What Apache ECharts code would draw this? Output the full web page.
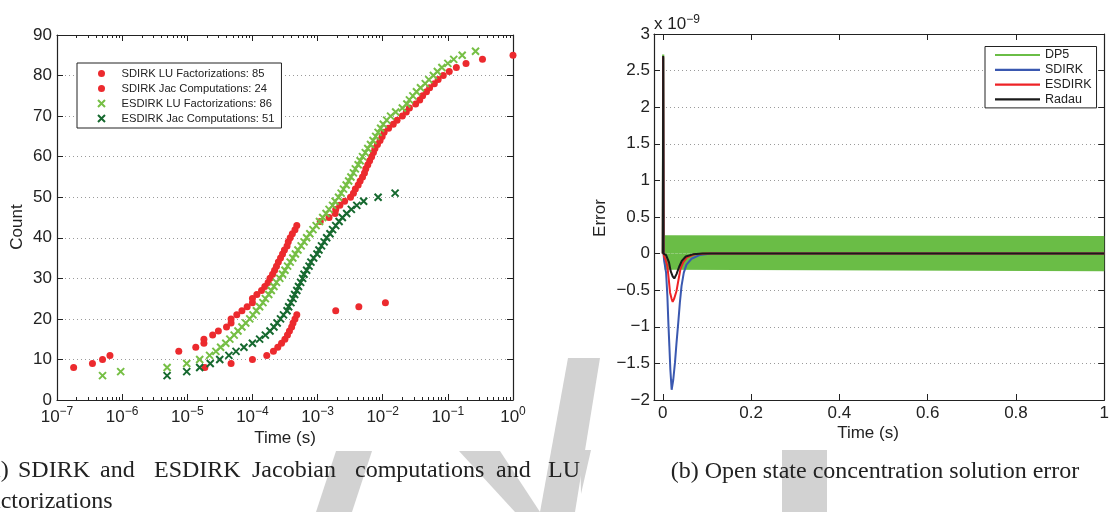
<!DOCTYPE html>
<html><head><meta charset="utf-8">
<script src="https://cdn.jsdelivr.net/npm/echarts@6/dist/echarts.min.js"></script>
<style>html,body{margin:0;padding:0;background:#fff}#c{width:1112px;height:512px}</style>
</head><body><div id="c"></div>
<script>
// ---------- Left panel: cumulative counts vs time ----------
const sdirkLuTime = [1.8e-7,3.5e-7,5.0e-7,6.5e-7,7.4e-6,1.35e-5,1.8e-5,1.8e-5,2.45e-5,3.0e-5,4.0e-5,4.7e-5,4.7e-5,5.75e-5,6.9e-5,8.3e-5,1.0e-4,1.0e-4,1.17e-4,1.38e-4,1.55e-4,1.74e-4,1.86e-4,2.04e-4,2.19e-4,2.34e-4,2.5e-4,2.7e-4,2.9e-4,3.1e-4,3.4e-4,3.55e-4,3.8e-4,4.1e-4,4.5e-4,4.8e-4,1.1e-3,1.5e-3,1.86e-3,1.9e-3,2.2e-3,2.6e-3,3.2e-3,3.55e-3,3.8e-3,4.2e-3,4.5e-3,4.9e-3,5.25e-3,5.5e-3,5.9e-3,6.3e-3,6.75e-3,7.2e-3,7.6e-3,8.3e-3,9.1e-3,9.8e-3,1.05e-2,1.23e-2,1.45e-2,1.66e-2,2.0e-2,2.3e-2,2.57e-2,3.2e-2,3.7e-2,4.1e-2,4.7e-2,5.25e-2,6.2e-2,7.1e-2,8.5e-2,1.05e-1,1.35e-1,1.9e-1,3.4e-1,1.0];
const sdirkLuCount = [8,9,10,11,12,13,14,15,16,17,18,19,20,21,22,23,24,25,26,27,28,29,30,31,32,33,34,35,36,37,38,39,40,41,42,43,44,45,46,47,48,49,50,51,52,53,54,55,56,57,58,59,60,61,62,63,64,65,66,67,68,69,70,71,72,73,74,75,76,77,78,79,80,81,82,83,84,85];
const sdirkJacTime = [1.86e-5,4.7e-5,1.0e-4,1.66e-4,2.1e-4,2.45e-4,2.8e-4,3.15e-4,3.45e-4,3.7e-4,4.0e-4,4.2e-4,4.5e-4,4.8e-4,1.9e-3,4.3e-3,1.1e-2];
const sdirkJacCount = [8,9,10,11,12,13,14,15,16,17,18,19,20,21,22,23,24];
const esdirkLuTime = [5.0e-7,9.5e-7,4.9e-6,9.8e-6,1.55e-5,2.2e-5,2.75e-5,3.25e-5,3.9e-5,4.5e-5,5.25e-5,6.0e-5,6.9e-5,7.9e-5,9.1e-5,1.02e-4,1.15e-4,1.29e-4,1.45e-4,1.58e-4,1.78e-4,1.95e-4,2.14e-4,2.34e-4,2.63e-4,2.9e-4,3.16e-4,3.47e-4,3.8e-4,4.17e-4,4.57e-4,5.0e-4,5.6e-4,6.2e-4,6.8e-4,7.6e-4,8.5e-4,9.5e-4,1.07e-3,1.2e-3,1.35e-3,1.5e-3,1.7e-3,1.86e-3,2.1e-3,2.3e-3,2.5e-3,2.75e-3,3.0e-3,3.25e-3,3.55e-3,3.8e-3,4.2e-3,4.5e-3,4.9e-3,5.4e-3,5.9e-3,6.5e-3,7.1e-3,7.8e-3,8.5e-3,9.3e-3,1.02e-2,1.15e-2,1.32e-2,1.58e-2,2.0e-2,2.35e-2,2.57e-2,2.9e-2,3.3e-2,3.8e-2,4.5e-2,5.1e-2,6.0e-2,6.9e-2,8.1e-2,1.0e-1,1.23e-1,1.66e-1,2.66e-1];
const esdirkLuCount = [6,7,8,9,10,11,12,13,14,15,16,17,18,19,20,21,22,23,24,25,26,27,28,29,30,31,32,33,34,35,36,37,38,39,40,41,42,43,44,45,46,47,48,49,50,51,52,53,54,55,56,57,58,59,60,61,62,63,64,65,66,67,68,69,70,71,72,73,74,75,76,77,78,79,80,81,82,83,84,85,86];
const esdirkJacTime = [4.9e-6,9.8e-6,1.55e-5,2.25e-5,3.15e-5,4.35e-5,5.6e-5,7.4e-5,1.0e-4,1.29e-4,1.58e-4,1.86e-4,2.14e-4,2.4e-4,2.7e-4,3.0e-4,3.4e-4,3.6e-4,3.9e-4,4.2e-4,4.45e-4,4.8e-4,5.1e-4,5.5e-4,5.9e-4,6.2e-4,6.8e-4,7.4e-4,7.9e-4,8.7e-4,9.8e-4,1.05e-3,1.15e-3,1.26e-3,1.38e-3,1.55e-3,1.7e-3,1.9e-3,2.14e-3,2.4e-3,2.8e-3,3.3e-3,4.0e-3,5.1e-3,8.5e-3,1.55e-2];
const esdirkJacCount = [6,7,8,9,10,11,12,13,14,15,16,17,18,19,20,21,22,23,24,25,26,27,28,29,30,31,32,33,34,35,36,37,38,39,40,41,42,43,44,45,46,47,48,49,50,51];
const leftLegend = ['SDIRK LU Factorizations: 85','SDIRK Jac Computations: 24','ESDIRK LU Factorizations: 86','ESDIRK Jac Computations: 51'];
const logMajorTicks = [1e-7,1e-6,1e-5,1e-4,1e-3,1e-2,1e-1,1];

// ---------- Right panel: error (x 1e-9) vs time ----------
const dp5SpikeTime = [0,0.0008,0.0016];
const dp5SpikeVal  = [0,2.72,0];
const dp5BandTime  = [0.004,0.006,1.0];
const dp5BandUpper = [0.25,0.24,0.24];
const dp5BandLower = [-0.22,-0.24,-0.24];
const sdirkTime = [0,0.0008,0.0016,0.003,0.005,0.0074,0.0103,0.0125,0.0148,0.017,0.020,0.0237,0.0275,0.031,0.035,0.0386,0.0424,0.0475,0.0536,0.065,0.083,0.11,1.0];
const sdirkVal  = [0,2.68,0,-0.1,-0.12,-0.26,-0.58,-0.94,-1.26,-1.58,-1.86,-1.72,-1.49,-1.22,-0.94,-0.67,-0.44,-0.26,-0.15,-0.07,-0.02,0,0];
const esdirkTime = [0,0.0008,0.0016,0.003,0.006,0.0103,0.0134,0.0163,0.020,0.0223,0.026,0.031,0.0357,0.040,0.046,0.055,0.072,0.1,1.0];
const esdirkVal  = [0,2.69,0,-0.04,-0.08,-0.17,-0.35,-0.53,-0.62,-0.66,-0.61,-0.51,-0.35,-0.21,-0.12,-0.05,-0.01,0,0];
const radauTime = [0,0.0008,0.0016,0.004,0.0074,0.0103,0.014,0.0178,0.0223,0.026,0.031,0.037,0.043,0.052,0.068,0.09,1.0];
const radauVal  = [0,2.7,0,-0.01,-0.02,-0.04,-0.12,-0.24,-0.31,-0.34,-0.28,-0.18,-0.10,-0.04,-0.01,0,0];
const rightXTicks = [0,0.2,0.4,0.6,0.8,1];
const rightLegend = ['DP5','SDIRK','ESDIRK','Radau'];

const FONT = 'Liberation Sans';
const TXT = '#222';
const minorTicks = [];
for (let k = -7; k < 0; k++) for (let m = 2; m <= 9; m++) minorTicks.push(m * Math.pow(10, k));

const pairs = (xs, ys) => xs.map((x, i) => [x, ys[i]]);
const X_PATH = 'path://M0 0L10 10M10 0L0 10';
const RED = '#ec2a2e', LG = '#76bf45', DG = '#16692f', DP5C = '#6abd46';
const GRIDLINE = { show: true, lineStyle: { color: '#9a9a9a', type: [1, 3], width: 1 } };
const axLine = { show: true, onZero: false, lineStyle: { color: '#222', width: 1.2 } };
const noLine = { show: false, onZero: false };
const tick = (len, custom) => Object.assign({ inside: true, length: len, lineStyle: { color: '#222' } }, custom ? { customValues: custom } : {});
const WM = '#d2d2d2';

const option = {
  animation: false,
  backgroundColor: '#fff',
  grid: [
    { left: 57, top: 35, width: 456, height: 365 },
    { left: 654, top: 34, width: 457, height: 366 }
  ],
  xAxis: [
    { gridIndex: 0, type: 'log', logBase: 10, min: 1e-7, max: 1, position: 'bottom',
      axisLine: axLine, splitLine: { show: false }, axisTick: tick(6, logMajorTicks),
      axisLabel: { customValues: logMajorTicks, margin: 6,
        formatter: v => { const e = Math.round(Math.log10(v)); return '{b|10}{e|' + (e < 0 ? '\u2212' : '') + Math.abs(e) + '}'; },
        rich: { b: { fontSize: 17, fontFamily: FONT, color: TXT, lineHeight: 22 },
                e: { fontSize: 12, fontFamily: FONT, color: TXT, verticalAlign: 'top', lineHeight: 12 } } } },
    { gridIndex: 0, type: 'log', logBase: 10, min: 1e-7, max: 1, position: 'top',
      axisLine: axLine, splitLine: { show: false }, axisTick: tick(6, logMajorTicks), axisLabel: { show: false } },
    { gridIndex: 0, type: 'log', logBase: 10, min: 1e-7, max: 1, position: 'bottom',
      axisLine: noLine, splitLine: { show: false }, axisTick: tick(3, minorTicks), axisLabel: { show: false } },
    { gridIndex: 0, type: 'log', logBase: 10, min: 1e-7, max: 1, position: 'top',
      axisLine: noLine, splitLine: { show: false }, axisTick: tick(3, minorTicks), axisLabel: { show: false } },
    { gridIndex: 1, type: 'value', min: -0.02, max: 1, position: 'bottom',
      axisLine: axLine, splitLine: { show: false }, axisTick: tick(6, rightXTicks),
      axisLabel: { customValues: rightXTicks, margin: 5, fontSize: 17, fontFamily: FONT, color: TXT } },
    { gridIndex: 1, type: 'value', min: -0.02, max: 1, position: 'top',
      axisLine: axLine, splitLine: { show: false }, axisTick: tick(6, rightXTicks), axisLabel: { show: false } }
  ],
  yAxis: [
    { gridIndex: 0, type: 'value', min: 0, max: 90, interval: 10, position: 'left',
      axisLine: axLine, splitLine: GRIDLINE, axisTick: tick(6),
      axisLabel: { margin: 5, fontSize: 17, fontFamily: FONT, color: TXT } },
    { gridIndex: 0, type: 'value', min: 0, max: 90, interval: 10, position: 'right',
      axisLine: axLine, splitLine: { show: false }, axisTick: tick(6), axisLabel: { show: false } },
    { gridIndex: 1, type: 'value', min: -2, max: 3, interval: 0.5, position: 'left',
      axisLine: axLine, splitLine: GRIDLINE, axisTick: tick(6),
      axisLabel: { margin: 4, fontSize: 17, fontFamily: FONT, color: TXT,
        formatter: v => String(v).replace('-', '\u2212') } },
    { gridIndex: 1, type: 'value', min: -2, max: 3, interval: 0.5, position: 'right',
      axisLine: axLine, splitLine: { show: false }, axisTick: tick(6), axisLabel: { show: false } }
  ],
  legend: [
    { data: leftLegend, orient: 'vertical', left: 77, top: 63, selectedMode: false,
      borderColor: '#222', borderWidth: 1, backgroundColor: '#fff',
      padding: [4, 7, 3, 20], itemWidth: 30, itemHeight: 7, itemGap: 2,
      textStyle: { fontSize: 11.2, lineHeight: 13, fontFamily: FONT, color: TXT } },
    { data: rightLegend, orient: 'vertical', left: 985, top: 46.5, selectedMode: false,
      borderColor: '#222', borderWidth: 1, backgroundColor: '#fff', icon: 'rect',
      padding: [2, 5, 2, 10], itemWidth: 45, itemHeight: 2.2, itemGap: 1.8,
      textStyle: { fontSize: 12.5, lineHeight: 13, fontFamily: FONT, color: TXT } }
  ],
  series: [
    { name: leftLegend[0], type: 'scatter', xAxisIndex: 0, yAxisIndex: 0, symbol: 'circle', symbolSize: 7,
      itemStyle: { color: RED, opacity: 1 }, data: pairs(sdirkLuTime, sdirkLuCount), clip: false },
    { name: leftLegend[1], type: 'scatter', xAxisIndex: 0, yAxisIndex: 0, symbol: 'circle', symbolSize: 7,
      itemStyle: { color: RED, opacity: 1 }, data: pairs(sdirkJacTime, sdirkJacCount), clip: false },
    { name: leftLegend[2], type: 'scatter', xAxisIndex: 0, yAxisIndex: 0, symbol: X_PATH, symbolSize: 7,
      itemStyle: { color: LG, borderColor: LG, borderWidth: 2, opacity: 1 }, data: pairs(esdirkLuTime, esdirkLuCount) },
    { name: leftLegend[3], type: 'scatter', xAxisIndex: 0, yAxisIndex: 0, symbol: X_PATH, symbolSize: 7,
      itemStyle: { color: DG, borderColor: DG, borderWidth: 2, opacity: 1 }, data: pairs(esdirkJacTime, esdirkJacCount) },

    { name: 'dp5upper', type: 'line', xAxisIndex: 4, yAxisIndex: 2, symbol: 'none', silent: true,
      lineStyle: { width: 0, opacity: 0 }, areaStyle: { color: DP5C, opacity: 1, origin: 0 },
      data: pairs(dp5BandTime, dp5BandUpper) },
    { name: 'dp5lower', type: 'line', xAxisIndex: 4, yAxisIndex: 2, symbol: 'none', silent: true,
      lineStyle: { width: 0, opacity: 0 }, areaStyle: { color: DP5C, opacity: 1, origin: 0 },
      data: pairs(dp5BandTime, dp5BandLower) },
    { name: 'DP5', type: 'line', xAxisIndex: 4, yAxisIndex: 2, symbol: 'none', color: DP5C,
      lineStyle: { width: 2.2, color: DP5C }, data: pairs(dp5SpikeTime, dp5SpikeVal) },
    { name: 'SDIRK', type: 'line', xAxisIndex: 4, yAxisIndex: 2, symbol: 'none', color: '#3a58b0',
      lineStyle: { width: 2, color: '#3a58b0' }, data: pairs(sdirkTime, sdirkVal) },
    { name: 'ESDIRK', type: 'line', xAxisIndex: 4, yAxisIndex: 2, symbol: 'none', color: '#ee2226',
      lineStyle: { width: 2, color: '#ee2226' }, data: pairs(esdirkTime, esdirkVal) },
    { name: 'Radau', type: 'line', xAxisIndex: 4, yAxisIndex: 2, symbol: 'none', color: '#1a1a1a',
      lineStyle: { width: 2, color: '#1a1a1a' }, data: pairs(radauTime, radauVal) }
  ],
  graphic: [
    // light grey watermark fragments behind the captions
    { type: 'polygon', z: -5, silent: true, shape: { points: [[336,451],[372,451],[352,512],[316,512]] }, style: { fill: WM } },
    { type: 'polygon', z: -5, silent: true, shape: { points: [[459,451],[500,451],[540,512],[515,512]] }, style: { fill: WM } },
    { type: 'polygon', z: -5, silent: true, shape: { points: [[568,358],[600,358],[575,512],[540,512]] }, style: { fill: WM } },
    { type: 'polygon', z: -5, silent: true, shape: { points: [[580,450],[591,450],[581,494]] }, style: { fill: WM } },
    { type: 'rect', z: -5, silent: true, shape: { x: 782, y: 450, width: 45, height: 62 }, style: { fill: WM } },

    { type: 'text', position: [17, 227], rotation: Math.PI / 2,
      style: { text: 'Count', fontSize: 17, fontFamily: FONT, fill: TXT, align: 'center', verticalAlign: 'middle' } },
    { type: 'text', position: [285, 438],
      style: { text: 'Time (s)', fontSize: 17, fontFamily: FONT, fill: TXT, align: 'center', verticalAlign: 'middle' } },
    { type: 'text', position: [868, 433],
      style: { text: 'Time (s)', fontSize: 17, fontFamily: FONT, fill: TXT, align: 'center', verticalAlign: 'middle' } },
    { type: 'text', position: [600, 218], rotation: Math.PI / 2,
      style: { text: 'Error', fontSize: 17, fontFamily: FONT, fill: TXT, align: 'center', verticalAlign: 'middle' } },
    { type: 'text', position: [654, 24],
      style: { text: '{a|x 10}{b|\u22129}', verticalAlign: 'middle',
        rich: { a: { fontSize: 17, fontFamily: FONT, fill: TXT, lineHeight: 20 },
                b: { fontSize: 12, fontFamily: FONT, fill: TXT, verticalAlign: 'top', lineHeight: 12 } } } },
    { type: 'text', position: [875, 472], z: 10,
      style: { text: '(b) Open state concentration solution error', fontSize: 24, fontFamily: 'Liberation Serif', fill: '#222', align: 'center', verticalAlign: 'middle' } },
    { type: 'group', z: 10, children: [
      ['(a)', -18], ['SDIRK', 18], ['and', 100], ['ESDIRK', 154], ['Jacobian', 252], ['computations', 355], ['and', 496], ['LU', 548]
    ].map(w => ({ type: 'text', position: [w[1], 471],
      style: { text: w[0], fontSize: 24, fontFamily: 'Liberation Serif', fill: '#222', align: 'left', verticalAlign: 'middle' } })) },
    { type: 'text', position: [-18, 502], z: 10,
      style: { text: 'factorizations', fontSize: 24, fontFamily: 'Liberation Serif', fill: '#222', align: 'left', verticalAlign: 'middle' } }
  ]
};
const chart = echarts.init(document.getElementById('c'));
chart.setOption(option);
</script></body></html>
